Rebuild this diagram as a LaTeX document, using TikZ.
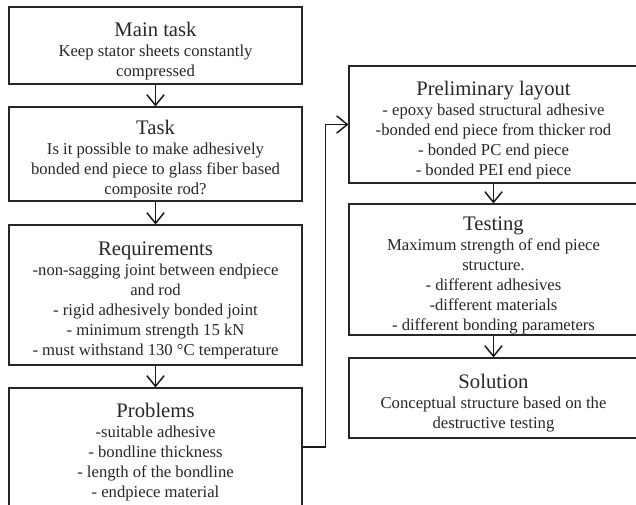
\documentclass[tikz,border=0pt]{standalone}
\usepackage{fontspec}
\setmainfont{Liberation Serif}
\usetikzlibrary{arrows.meta}
\newcommand\px{0.75pt}
\newcommand\kop[1]{{\fontsize{15.5}{18}\selectfont\rule{0pt}{19pt}#1}}
\tikzset{
  stap/.style={draw=black!85, line width=0.8pt, align=center, inner sep=0pt,
    text=black!85, font=\fontsize{12.5}{15}\selectfont},
  links/.style={stap, minimum width=293*\px},
  rechts/.style={stap, minimum width=289*\px},
  pijl/.style={draw=black!90, line width=1.1pt, -{Straight Barb[length=8pt,width=13pt,line width=1.1pt]}}
}
\begin{document}
\begin{tikzpicture}[x=\px, y=-\px]
	\useasboundingbox (0,0) rectangle (636,504);
	%links
	\node[links, minimum height=77*\px]  (hoofd) at (155.5,45.5) {\kop{Main task}\\Keep stator sheets constantly\\compressed};
	\node[links, minimum height=94*\px]  (taak)  at (155.5,154)  {\kop{Task}\\Is it possible to make adhesively\\bonded end piece to glass fiber based\\composite rod?};
	\node[links, minimum height=140*\px] (eisen) at (155.5,295)  {\kop{Requirements}\\-non-sagging joint between endpiece\\and rod\\- rigid adhesively bonded joint\\- minimum strength 15 kN\\- must withstand 130 °C temperature};
	\node[links, minimum height=118*\px] (probl) at (155.5,447)  {\kop{Problems}\\-suitable adhesive\\- bondline thickness\\- length of the bondline\\- endpiece material};
	%rechts
	\node[rechts, minimum height=117*\px] (opzet) at (493.5,124.5) {\kop{Preliminary layout}\\- epoxy based structural adhesive\\-bonded end piece from thicker rod\\- bonded PC end piece\\- bonded PEI end piece};
	\node[rechts, minimum height=131*\px] (test)  at (493.5,269.5) {\kop{Testing}\\Maximum strength of end piece\\structure.\\- different adhesives\\-different materials\\- different bonding parameters};
	\node[rechts, minimum height=80*\px]  (oplos) at (493.5,398)   {\kop{Solution}\\Conceptual structure based on the\\destructive testing};
	%pijlen
	\draw[pijl] (hoofd) -- (taak);
	\draw[pijl] (taak)  -- (eisen);
	\draw[pijl] (eisen) -- (probl);
	\draw[pijl] (probl.east) -- ++(23,0) |- (opzet.west);
	\draw[pijl] (opzet) -- (test);
	\draw[pijl] (test)  -- (oplos);
\end{tikzpicture}
\end{document}
